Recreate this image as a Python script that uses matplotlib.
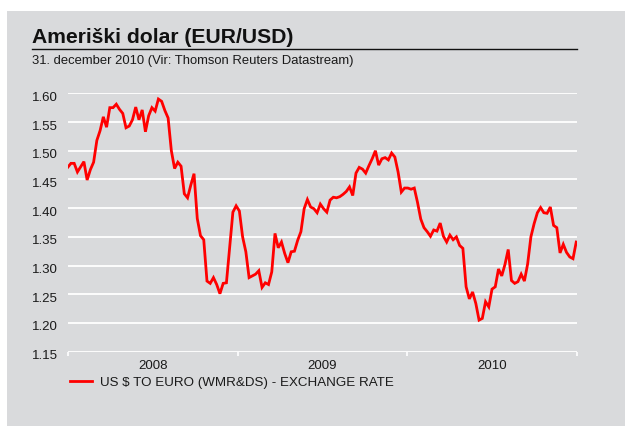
import matplotlib
matplotlib.use("Agg")
import matplotlib.pyplot as plt
import matplotlib.transforms as mtransforms
from matplotlib.patches import Rectangle
from matplotlib.lines import Line2D
import numpy as np
import pandas as pd

plt.rcParams['font.family'] = ['Liberation Sans', 'DejaVu Sans']

title = "Ameriški dolar (EUR/USD)"
subtitle = "31. december 2010 (Vir: Thomson Reuters Datastream)"
series_label = "US $ TO EURO (WMR&DS) - EXCHANGE RATE"
start_date = "2008-01-01"
end_date = "2010-12-31"
year_labels = ["2008", "2009", "2010"]
y_ticks = [1.15, 1.20, 1.25, 1.30, 1.35, 1.40, 1.45, 1.50, 1.55, 1.60]

# weekly EUR/USD values
values = [
    1.471, 1.478, 1.478, 1.463, 1.472, 1.481, 1.449, 1.467, 1.480, 1.518,
    1.535, 1.559, 1.541, 1.575, 1.575, 1.581, 1.572, 1.565, 1.540, 1.543,
    1.554, 1.576, 1.554, 1.571, 1.533, 1.561, 1.575, 1.569, 1.590, 1.586,
    1.570, 1.557, 1.500, 1.469, 1.480, 1.473, 1.425, 1.418, 1.440, 1.460,
    1.382, 1.352, 1.345, 1.273, 1.269, 1.279, 1.267, 1.251, 1.269, 1.270,
    1.332, 1.393, 1.404, 1.395, 1.350, 1.324, 1.279, 1.282, 1.285, 1.291,
    1.262, 1.270, 1.267, 1.289, 1.356, 1.331, 1.341, 1.321, 1.305, 1.324,
    1.325, 1.344, 1.359, 1.399, 1.415, 1.402, 1.399, 1.392, 1.407, 1.399,
    1.393, 1.414, 1.419, 1.418, 1.420, 1.424, 1.429, 1.437, 1.422, 1.461,
    1.471, 1.468, 1.461, 1.474, 1.486, 1.500, 1.475, 1.486, 1.488, 1.484,
    1.496, 1.489, 1.463, 1.428, 1.435, 1.435, 1.433, 1.435, 1.410, 1.381,
    1.366, 1.359, 1.351, 1.362, 1.360, 1.374, 1.351, 1.341, 1.353, 1.345,
    1.350, 1.335, 1.330, 1.263, 1.242, 1.254, 1.234, 1.205, 1.208, 1.237,
    1.228, 1.259, 1.263, 1.294, 1.282, 1.302, 1.328, 1.274, 1.269, 1.272,
    1.285, 1.273, 1.303, 1.350, 1.373, 1.392, 1.401, 1.392, 1.391, 1.402,
    1.370, 1.366, 1.322, 1.337, 1.323, 1.315, 1.312, 1.341,
]
dates = pd.date_range(start_date, end_date, periods=len(values))

W, H = 625, 426
fig = plt.figure(figsize=(W / 100, H / 100), dpi=100)
fig.patch.set_facecolor('white')
bg = '#d9dadc'
fig.add_artist(Rectangle((7 / W, 0), 1 - 7 / W, 1 - 11 / H, transform=fig.transFigure,
                         facecolor=bg, edgecolor='none', zorder=0))

left, right, top, bottom = 67.7, 576.7, 93.3, 351.7
ax = fig.add_axes([left / W, 1 - bottom / H, (right - left) / W, (bottom - top) / H])
ax.set_facecolor('none')
for s in ax.spines.values():
    s.set_visible(False)

line, = ax.plot(dates, values, color='#ff0000', lw=2.0, solid_joinstyle='miter', zorder=3)

ax.set_ylim(1.15, 1.60)
ax.set_xlim(pd.Timestamp(start_date), pd.Timestamp("2011-01-01"))
ax.set_yticks(y_ticks)
ax.set_yticklabels([f"{v:.2f}" for v in y_ticks])
for v in y_ticks:
    ax.axhline(v, color='white', lw=1.3, zorder=1)
ax.tick_params(axis='y', length=0, pad=7, labelsize=9.5, labelcolor='#1a1a1a')
offset = mtransforms.ScaledTranslation(0, -3 / 100, fig.dpi_scale_trans)
for lab in ax.get_yticklabels():
    lab.set_transform(lab.get_transform() + offset)

year_bounds = [pd.Timestamp(f"{y}-01-01") for y in (2008, 2009, 2010, 2011)]
ax.set_xticks(year_bounds)
ax.set_xticklabels([])
ax.tick_params(axis='x', length=3, width=1.2, color='white', direction='out')
mids = [a + (b - a) / 2 for a, b in zip(year_bounds[:-1], year_bounds[1:])]
ax.set_xticks(mids, minor=True)
ax.set_xticklabels(year_labels, minor=True)
ax.tick_params(axis='x', which='minor', length=0, pad=6, labelsize=9.5, labelcolor='#1a1a1a')

fig.text(32 / W, 1 - 43 / H, title, fontsize=15.2, fontweight='bold', color='#111111',
         ha='left', va='baseline')
fig.add_artist(Line2D([32 / W, 577 / W], [1 - 49 / H] * 2, color='#111111', lw=1.0,
                      transform=fig.transFigure))
fig.text(32 / W, 1 - 64 / H, subtitle, fontsize=9.4, color='#1a1a1a', ha='left', va='baseline')

ax.legend([line], [series_label], loc='center left', bbox_to_anchor=(70 / W, 1 - 383 / H),
          bbox_transform=fig.transFigure, frameon=False, borderpad=0, borderaxespad=0,
          handlelength=1.65, handletextpad=0.6, fontsize=9.6, labelcolor='#1a1a1a')

fig.savefig("out.png", dpi=100, facecolor='white')
